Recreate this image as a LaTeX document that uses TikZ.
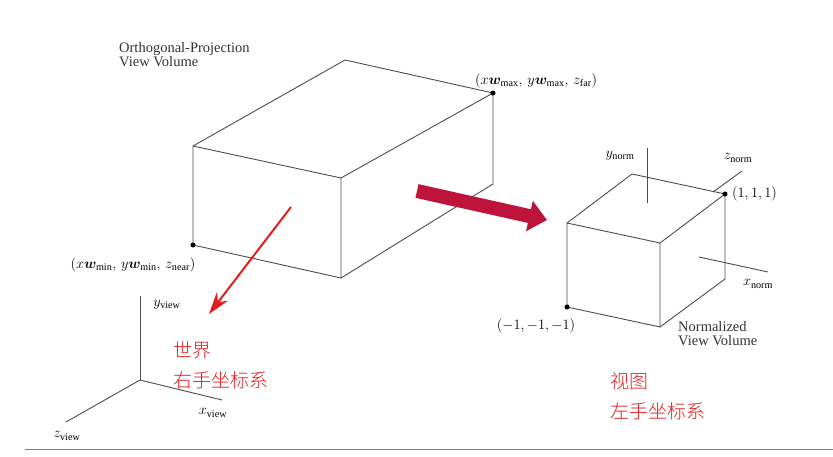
\documentclass[tikz,border=0pt]{standalone}
\usepackage{fontspec}
\setmainfont{Liberation Serif}
\newfontfamily\cjk{Noto Sans CJK SC Light}
\usepackage{amsmath,amssymb}
\usepackage{bm}
\usetikzlibrary{arrows.meta}
\usetikzlibrary{positioning}
\definecolor{crimson}{RGB}{190,20,60}
\definecolor{redtxt}{RGB}{225,30,30}
\tikzset{
  edge/.style={draw=black!70,line width=0.9pt},
  corner/.style={circle,fill=black,inner sep=1.8pt},
  lbl/.style={inner sep=1pt,font=\fontsize{14.5}{15}\selectfont},
  cn/.style={inner sep=0pt,anchor=west,text=redtxt,font=\cjk\fontsize{19}{20}\selectfont}
}
\begin{document}
\begin{tikzpicture}[x=1pt,y=-1pt]
    \useasboundingbox (0,0) rectangle (833,457);

    % big box
    \coordinate (ftl) at (193,146);
    \coordinate (ftr) at (341,178);
    \coordinate (fbl) at (193,245);
    \coordinate (fbr) at (341,278);
    \coordinate (btl) at (345,60);
    \coordinate (btr) at (493,93);
    \coordinate (bbr) at (493,184);
    \draw[edge] (ftl) -- (ftr) -- (fbr) -- (fbl) -- cycle;
    \draw[edge] (ftl) -- (btl) -- (btr) -- (ftr);
    \draw[edge] (btr) -- (bbr) -- (fbr);
    \node[corner] at (fbl) {};
    \node[corner] at (btr) {};
    \node[lbl,align=left,anchor=north west,text=black!80] (title) at (118,41)
      {Orthogonal-Projection\\[-1pt]View Volume};
    \node[lbl,anchor=south west] (far) at (474,89)
      {$(x\bm{w}_{\text{max}},\, y\bm{w}_{\text{max}},\, z_{\text{far}})$};
    \node[lbl] (near) at (133,265)
      {$(x\bm{w}_{\text{min}},\, y\bm{w}_{\text{min}},\, z_{\text{near}})$};

    % view axes
    \coordinate (o) at (140,380);
    \coordinate (yv) at (140,296);
    \coordinate (xv) at (222,400);
    \coordinate (zv) at (66,422);
    \draw[edge] (o) -- (yv);
    \draw[edge] (o) -- (xv);
    \draw[edge] (o) -- (zv);
    \node[lbl] at (167,305) {$y_{\text{view}}$};
    \node[lbl] at (213,413) {$x_{\text{view}}$};
    \node[lbl] at (67,436) {$z_{\text{view}}$};

    % thin red arrow
    \coordinate (ra) at (291,207);
    \coordinate (rb) at (209,314);
    \draw[redtxt,line width=2pt,-{Stealth[length=22pt,width=14pt]}] (ra) -- (rb);
    \node[cn] (world) at (173,350) {世界};
    \node[cn] (rh) at (173,380) {右手坐标系};

    % big arrow
    \coordinate (aa) at (417,191);
    \coordinate (ab) at (547,220);
    \draw[crimson,line width=14pt,-{Triangle[length=18pt,width=30pt]}] (aa) -- (ab);

    % small cube
    \coordinate (ctl) at (567,223);
    \coordinate (ctr) at (660,243);
    \coordinate (cbl) at (567,307);
    \coordinate (cbr) at (660,327);
    \coordinate (dtl) at (632,174);
    \coordinate (dtr) at (725,194);
    \coordinate (dbr) at (725,279);
    \draw[edge] (ctl) -- (ctr) -- (cbr) -- (cbl) -- cycle;
    \draw[edge] (ctl) -- (dtl) -- (dtr) -- (ctr);
    \draw[edge] (dtr) -- (dbr) -- (cbr);
    \node[corner] at (cbl) {};
    \node[corner] at (dtr) {};

    % norm axes
    \coordinate (yn1) at (647,148);
    \coordinate (yn2) at (647,203);
    \coordinate (zn1) at (713,192);
    \coordinate (zn2) at (742,171);
    \coordinate (xn1) at (699,257);
    \coordinate (xn2) at (768,272);
    \draw[edge] (yn1) -- (yn2);
    \draw[edge] (zn1) -- (zn2);
    \draw[edge] (xn1) -- (xn2);
    \node[lbl] at (620,156) {$y_{\text{norm}}$};
    \node[lbl] at (738,158) {$z_{\text{norm}}$};
    \node[lbl] at (758,284) {$x_{\text{norm}}$};
    \node[lbl,anchor=west] at (731,194) {$(1, 1, 1)$};
    \node[lbl] at (536,326) {$(-1, -1, -1)$};
    \node[lbl,align=left,anchor=north west,text=black!80] (nvv) at (677,320)
      {Normalized\\[-1pt]View Volume};
    \node[cn] (view) at (610,381) {视图};
    \node[cn] (lh) at (610,411) {左手坐标系};

    % bottom rule
    \draw[black!50,line width=1pt] (25,449) -- (833,449);
\end{tikzpicture}
\end{document}
